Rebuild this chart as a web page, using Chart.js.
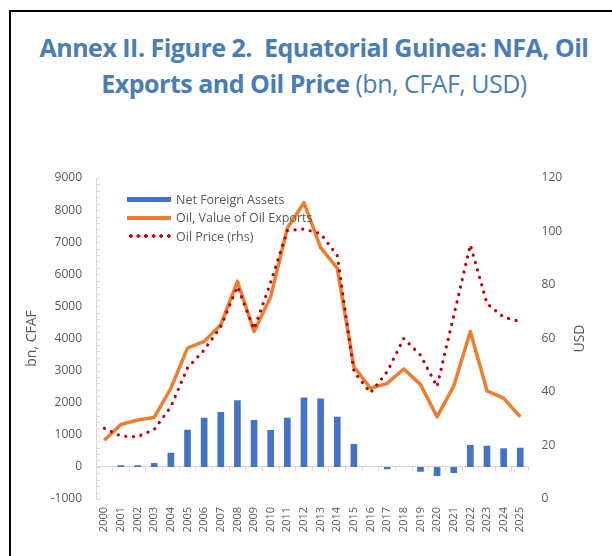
<!DOCTYPE html>
<html>
<head>
<meta charset="utf-8">
<script src="https://cdn.jsdelivr.net/npm/chart.js@4.4.1/dist/chart.umd.min.js"></script>
<style>
    html, body { margin: 0; padding: 0; background: #fff; }
    body { width: 612px; height: 556px; position: relative; overflow: hidden; font-family: "Open Sans", sans-serif; }
    #frame { position: absolute; left: 9px; top: 10px; width: 700px; height: 700px; border-left: 2px solid #000; border-top: 2px solid #000; }
    .title { position: absolute; left: 0; width: 628px; text-align: center; white-space: nowrap; color: #4a7db5; font-size: 25px; line-height: 25px; letter-spacing: -0.5px; }
    .title b { font-weight: 700; }
    #t1 { top: 35px; font-weight: 700; }
    #t2 { top: 71px; }
    #chart-box { position: absolute; left: 0; top: 150px; }
    #legend { position: absolute; left: 127px; top: 190px; font-size: 12.5px; color: #595959; }
    .item { height: 18.5px; display: flex; align-items: center; }
    .swatch { width: 44px; margin-right: 5px; }
    .sw-bar { height: 5px; background: #4472C4; }
    .sw-line { height: 3.5px; background: #ED7D31; }
    .sw-dot { height: 4px; background: radial-gradient(circle, #C00000 1.5px, transparent 2px) 0 0 / 7.6px 4px repeat-x; }
</style>
</head>
<body>
<div id="frame"></div>
<div class="title" id="t1">Annex II. Figure 2.&nbsp; Equatorial Guinea: NFA, Oil</div>
<div class="title" id="t2"><b>Exports and Oil Price</b> (bn, CFAF, USD)</div>
<div id="chart-box"><canvas id="chart" width="612" height="406"></canvas></div>
<div id="legend">
    <div class="item"><div class="swatch sw-bar"></div>Net Foreign Assets</div>
    <div class="item"><div class="swatch sw-line"></div>Oil, Value of Oil Exports</div>
    <div class="item"><div class="swatch sw-dot"></div>Oil Price (rhs)</div>
</div>
<script>
const years = ["2000", "2001", "2002", "2003", "2004", "2005", "2006", "2007", "2008", "2009",
    "2010", "2011", "2012", "2013", "2014", "2015", "2016", "2017", "2018", "2019",
    "2020", "2021", "2022", "2023", "2024", "2025"];

// bn CFAF
const netForeignAssets = [0, 50, 50, 125, 440, 1160, 1530, 1710, 2080, 1460,
    1150, 1530, 2160, 2130, 1560, 710, 0, -70, 0, -150,
    -280, -190, 680, 660, 580, 600];

// bn CFAF
const oilExports = [830, 1320, 1460, 1540, 2450, 3700, 3910, 4430, 5780, 4220,
    5300, 7440, 8230, 6830, 6190, 3120, 2450, 2600, 3050, 2570,
    1560, 2520, 4220, 2370, 2140, 1560];

// USD (rhs)
const oilPrice = [26.4, 23.5, 23.3, 26, 34.5, 49, 55.7, 64.4, 79.4, 63.5,
    81, 100.3, 100.9, 99.2, 91, 47.6, 39.7, 47.6, 60, 53.8,
    42, 68.5, 95, 73, 68, 66.3];

const leftTicks = { min: -1000, max: 9000, step: 1000, minor: 200 };
const rightTicks = { min: 0, max: 120, step: 20 };

const gray = "#595959";
const axisGray = "#d9d9d9";

// minor ticks on the left axis and the two axis titles
const extras = {
    id: "extras",
    afterDraw(chart) {
        const { ctx, chartArea } = chart;
        const y = chart.scales.y;

        ctx.save();
        ctx.strokeStyle = axisGray;
        ctx.lineWidth = 1;
        for (let v = leftTicks.min; v <= leftTicks.max; v += leftTicks.minor) {
            const py = Math.round(y.getPixelForValue(v)) + 0.5;
            ctx.beginPath();
            ctx.moveTo(y.right, py);
            ctx.lineTo(y.right + 4, py);
            ctx.stroke();
        }

        const midY = (chartArea.top + chartArea.bottom) / 2;
        ctx.fillStyle = gray;
        ctx.font = '14px "Open Sans"';
        ctx.textAlign = "center";
        ctx.textBaseline = "middle";
        [["bn, CFAF", 32], ["USD", 580]].forEach(([text, x]) => {
            ctx.save();
            ctx.translate(x, midY);
            ctx.rotate(-Math.PI / 2);
            ctx.fillText(text, 0, 0);
            ctx.restore();
        });
        ctx.restore();
    }
};

window.addEventListener("load", () => {
    const ctx = document.querySelector("#chart");

    new Chart(ctx, {
        type: "bar",
        data: {
            labels: years,
            datasets: [{
                label: "Oil Price (rhs)",
                type: "line",
                data: oilPrice,
                yAxisID: "y1",
                borderColor: "#C00000",
                borderWidth: 3.2,
                borderDash: [0.1, 7.6],
                borderCapStyle: "round",
                pointRadius: 0,
                tension: 0,
                order: 0
            }, {
                label: "Oil, Value of Oil Exports",
                type: "line",
                data: oilExports,
                yAxisID: "y",
                borderColor: "#ED7D31",
                borderWidth: 3.5,
                borderJoinStyle: "round",
                pointRadius: 0,
                tension: 0,
                order: 1
            }, {
                label: "Net Foreign Assets",
                data: netForeignAssets,
                yAxisID: "y",
                backgroundColor: "#4472C4",
                borderWidth: 0,
                barPercentage: 0.8,
                categoryPercentage: 0.5,
                order: 2
            }]
        },
        options: {
            responsive: false,
            animation: false,
            devicePixelRatio: 1,
            layout: {
                padding: { top: 28, left: 0, right: 0, bottom: 0 }
            },
            scales: {
                x: {
                    offset: true,
                    grid: { display: false, drawTicks: false },
                    border: { display: false },
                    ticks: {
                        minRotation: 90,
                        maxRotation: 90,
                        autoSkip: false,
                        padding: 8,
                        color: gray,
                        font: { family: "Open Sans", size: 11 }
                    },
                    afterFit: (s) => { s.height = 57; }
                },
                x2: {
                    type: "category",
                    position: { y: 0 },
                    offset: true,
                    grid: {
                        display: true,
                        drawOnChartArea: false,
                        drawTicks: true,
                        tickLength: 4,
                        color: axisGray,
                        offset: true
                    },
                    border: { display: true, color: axisGray },
                    ticks: { display: false }
                },
                y: {
                    position: "left",
                    min: leftTicks.min,
                    max: leftTicks.max,
                    grid: { display: false, drawTicks: false },
                    border: { display: true, color: axisGray },
                    ticks: {
                        stepSize: leftTicks.step,
                        padding: 14,
                        color: gray,
                        font: { family: "Open Sans", size: 12 },
                        callback: (v) => String(v)
                    },
                    afterFit: (s) => { s.width = 96; }
                },
                y1: {
                    position: "right",
                    min: rightTicks.min,
                    max: rightTicks.max,
                    grid: { display: false, drawTicks: false },
                    border: { display: false },
                    ticks: {
                        stepSize: rightTicks.step,
                        padding: 13,
                        color: gray,
                        font: { family: "Open Sans", size: 12 },
                        callback: (v) => String(v)
                    },
                    afterFit: (s) => { s.width = 83.4; }
                }
            },
            plugins: {
                legend: { display: false },
                tooltip: { enabled: false }
            }
        },
        plugins: [extras]
    });
});
</script>
</body>
</html>
